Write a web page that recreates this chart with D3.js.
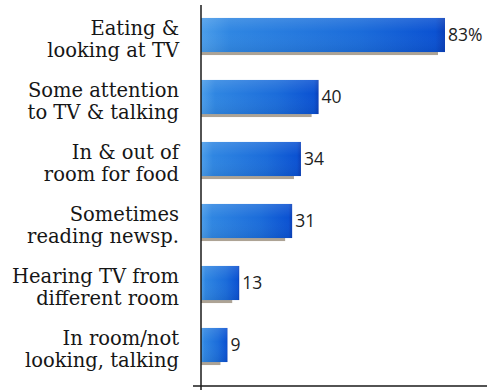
<!DOCTYPE html>
<html>
<head>
<meta charset="utf-8">
<script src="https://cdn.jsdelivr.net/npm/d3@7"></script>
<style>
  html, body { margin: 0; padding: 0; background: #fff; }
  svg { display: block; }
</style>
</head>
<body>
<svg id="chart" width="487" height="391"></svg>
<script>
// Viewing activities while at home, share of respondents (%)
const categories = [
  "Eating &\nlooking at TV",
  "Some attention\nto TV & talking",
  "In & out of\nroom for food",
  "Sometimes\nreading newsp.",
  "Hearing TV from\ndifferent room",
  "In room/not\nlooking, talking"
];
const values = [83, 40, 34, 31, 13, 9];
const valueLabels = ["83%", "40", "34", "31", "13", "9"];

const svg = d3.select("#chart");
const axisX = 201;

const x = d3.scaleLinear().domain([0, 83]).range([axisX, 445]);
const y = d3.scaleBand()
  .domain(categories)
  .range([4, 376])
  .paddingInner(0.45)
  .paddingOuter(0.225);

const defs = svg.append("defs");
const grad = defs.append("linearGradient")
  .attr("id", "barFill").attr("x1", 0).attr("x2", 1).attr("y1", 0).attr("y2", 0);
grad.append("stop").attr("offset", 0).attr("stop-color", "#4c9eea");
grad.append("stop").attr("offset", 0.12).attr("stop-color", "#2f86e2");
grad.append("stop").attr("offset", 0.65).attr("stop-color", "#1b6cda");
grad.append("stop").attr("offset", 0.96).attr("stop-color", "#0b52d2");
grad.append("stop").attr("offset", 1).attr("stop-color", "#0a3fb8");

const sheen = defs.append("linearGradient")
  .attr("id", "barSheen").attr("x1", 0).attr("x2", 0).attr("y1", 0).attr("y2", 1);
sheen.append("stop").attr("offset", 0).attr("stop-color", "#fff").attr("stop-opacity", 0.12);
sheen.append("stop").attr("offset", 0.4).attr("stop-color", "#fff").attr("stop-opacity", 0);
sheen.append("stop").attr("offset", 1).attr("stop-color", "#000").attr("stop-opacity", 0.06);

const rows = svg.append("g").selectAll("g.row")
  .data(categories.map((c, i) => ({ c, v: values[i], label: valueLabels[i] })))
  .join("g").attr("class", "row");

// drop shadow strip under each bar
rows.append("rect")
  .attr("x", axisX)
  .attr("y", d => y(d.c) + y.bandwidth() - 1)
  .attr("width", d => Math.max(0, x(d.v) - axisX - 7))
  .attr("height", 4)
  .attr("fill", "#8a7c68")
  .attr("opacity", 0.7);

rows.append("rect")
  .attr("x", axisX)
  .attr("y", d => y(d.c))
  .attr("width", d => x(d.v) - axisX)
  .attr("height", y.bandwidth())
  .attr("fill", "url(#barFill)");

rows.append("rect")
  .attr("x", axisX)
  .attr("y", d => y(d.c))
  .attr("width", d => x(d.v) - axisX)
  .attr("height", y.bandwidth())
  .attr("fill", "url(#barSheen)");

// value labels
rows.append("text")
  .attr("x", d => x(d.v) + 3)
  .attr("y", d => y(d.c) + y.bandwidth() / 2 + 6)
  .attr("font-family", "'Open Sans', 'Liberation Sans', sans-serif")
  .attr("font-size", 17.5)
  .attr("fill", "#1e1e1e")
  .text(d => d.label);

// category labels, two lines, right aligned
const catText = rows.append("text")
  .attr("text-anchor", "end")
  .attr("font-family", "'DejaVu Serif', serif")
  .attr("font-size", 19.5)
  .attr("fill", "#161616");
catText.each(function(d) {
  const lines = d.c.split("\n");
  const cy = y(d.c) + y.bandwidth() / 2;
  d3.select(this).selectAll("tspan")
    .data(lines)
    .join("tspan")
    .attr("x", 179)
    .attr("y", (l, j) => cy + j * 21.5)
    .text(l => l);
});

// axes lines
const axes = svg.append("g").attr("stroke", "#1a1a1a").attr("stroke-width", 1.5);
axes.append("line").attr("x1", axisX).attr("x2", axisX).attr("y1", 5).attr("y2", 390);
axes.append("line").attr("x1", 193).attr("x2", 487).attr("y1", 386).attr("y2", 386);
</script>
</body>
</html>
